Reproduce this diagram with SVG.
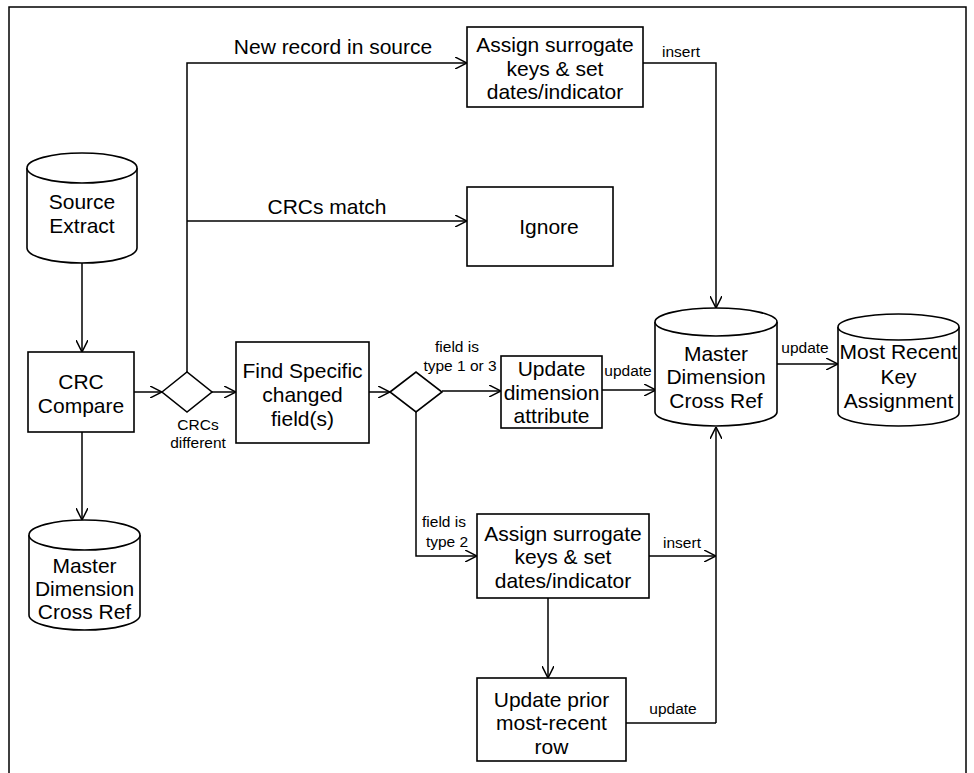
<svg xmlns="http://www.w3.org/2000/svg" width="974" height="773" viewBox="0 0 974 773">
<defs>
<marker id="arr" markerUnits="userSpaceOnUse" viewBox="0 0 12 12" markerWidth="12" markerHeight="12" refX="12" refY="6" orient="auto">
<path d="M0,0 L12,6 L0,12" fill="none" stroke="#000" stroke-width="1.5"/>
</marker>
</defs>
<style>
.shape{fill:#fff;stroke:#000;stroke-width:1.6}
.edge{fill:none;stroke:#000;stroke-width:1.5}
.arrow{marker-end:url(#arr)}
.t{font-family:"Liberation Sans",Arial,sans-serif;font-size:21px;text-anchor:middle;fill:#000}
.s{font-family:"Liberation Sans",Arial,sans-serif;font-size:15.5px;text-anchor:middle;fill:#000}
</style>
<rect x="0" y="0" width="974" height="773" fill="#fff"/>
<rect x="9" y="7" width="957" height="800" fill="none" stroke="#000" stroke-width="1.5"/>

<g id="connectors">
<path class="edge arrow" d="M82,263 L82,352"/>
<path class="edge arrow" d="M134,392 L162,392"/>
<path class="edge arrow" d="M212,392 L236,392"/>
<path class="edge arrow" d="M187,372 L187,63 L467,63"/>
<path class="edge arrow" d="M187,221 L467,221"/>
<path class="edge arrow" d="M369,392 L390,392"/>
<path class="edge arrow" d="M442,391 L501,391"/>
<path class="edge arrow" d="M602,390 L656,390"/>
<path class="edge arrow" d="M777,364 L838,364"/>
<path class="edge arrow" d="M643,63 L716,63 L716,308"/>
<path class="edge arrow" d="M416,412 L416,556 L477,556"/>
<path class="edge arrow" d="M649,556 L716,556"/>
<path class="edge arrow" d="M716,723 L716,427"/>
<path class="edge arrow" d="M548,598 L548,678"/>
<path class="edge" d="M626,723 L716,723"/>
<path class="edge arrow" d="M82,432 L82,520"/>
<text class="t" x="333" y="54">New record in source</text>
<text class="t" x="327" y="214">CRCs match</text>
<text class="s" x="681" y="57">insert</text>
<text class="s" x="198" y="430">CRCs</text>
<text class="s" x="198" y="448">different</text>
<text class="s" x="457" y="352">field is</text>
<text class="s" x="460" y="371">type 1 or 3</text>
<text class="s" x="628" y="376">update</text>
<text class="s" x="805" y="353">update</text>
<text class="s" x="444" y="527">field is</text>
<text class="s" x="447" y="547">type 2</text>
<text class="s" x="682" y="548">insert</text>
<text class="s" x="673" y="714">update</text>
</g>

<g id="source-extract">
<path class="shape" d="M27,168 A55,15 0 0,1 137,168 L137,248 A55,15 0 0,1 27,248 Z"/>
<path class="shape" d="M27,168 A55,15 0 0,0 137,168"/>
<text class="t" x="82" y="209">Source</text>
<text class="t" x="82" y="233">Extract</text>
</g>

<g id="crc-compare">
<rect class="shape" x="28" y="352" width="106" height="80"/>
<text class="t" x="81" y="389">CRC</text>
<text class="t" x="81" y="413">Compare</text>
</g>

<g id="decision-crc">
<path class="shape" d="M162,392 L187,372 L212,392 L187,412 Z"/>
</g>

<g id="assign-new">
<rect class="shape" x="467" y="27" width="176" height="80"/>
<text class="t" x="555" y="51.5">Assign surrogate</text>
<text class="t" x="555" y="75.5">keys &amp; set</text>
<text class="t" x="555" y="99">dates/indicator</text>
</g>

<g id="ignore">
<rect class="shape" x="467" y="187" width="146" height="79"/>
<text class="t" x="549" y="234">Ignore</text>
</g>

<g id="find-changed">
<rect class="shape" x="236" y="342" width="133" height="101"/>
<text class="t" x="302.5" y="378">Find Specific</text>
<text class="t" x="302.5" y="402">changed</text>
<text class="t" x="302.5" y="426">field(s)</text>
</g>

<g id="decision-type">
<path class="shape" d="M390,392 L416,372 L442,392 L416,412 Z"/>
</g>

<g id="update-attr">
<rect class="shape" x="501" y="356" width="101" height="72"/>
<text class="t" x="551.5" y="376">Update</text>
<text class="t" x="551.5" y="400">dimension</text>
<text class="t" x="551.5" y="423">attribute</text>
</g>

<g id="master-xref">
<path class="shape" d="M655,322 A61,14 0 0,1 777,322 L777,412 A61,14 0 0,1 655,412 Z"/>
<path class="shape" d="M655,322 A61,14 0 0,0 777,322"/>
<text class="t" x="716" y="360.5">Master</text>
<text class="t" x="716" y="384">Dimension</text>
<text class="t" x="716" y="407.5">Cross Ref</text>
</g>

<g id="most-recent">
<path class="shape" d="M838,327 A60.5,13 0 0,1 959,327 L959,413 A60.5,13 0 0,1 838,413 Z"/>
<path class="shape" d="M838,327 A60.5,13 0 0,0 959,327"/>
<text class="t" x="898.5" y="359">Most Recent</text>
<text class="t" x="898.5" y="384">Key</text>
<text class="t" x="898.5" y="407.5">Assignment</text>
</g>

<g id="assign-type2">
<rect class="shape" x="477" y="514" width="172" height="84"/>
<text class="t" x="563" y="540.5">Assign surrogate</text>
<text class="t" x="563" y="564">keys &amp; set</text>
<text class="t" x="563" y="587.5">dates/indicator</text>
</g>

<g id="update-prior">
<rect class="shape" x="477" y="678" width="149" height="83"/>
<text class="t" x="551.5" y="706.5">Update prior</text>
<text class="t" x="551.5" y="730">most-recent</text>
<text class="t" x="551.5" y="754">row</text>
</g>

<g id="master-xref-2">
<path class="shape" d="M29,535 A55.5,15 0 0,1 140,535 L140,615 A55.5,15 0 0,1 29,615 Z"/>
<path class="shape" d="M29,535 A55.5,15 0 0,0 140,535"/>
<text class="t" x="84.5" y="572.5">Master</text>
<text class="t" x="84.5" y="596">Dimension</text>
<text class="t" x="84.5" y="619">Cross Ref</text>
</g>
</svg>
